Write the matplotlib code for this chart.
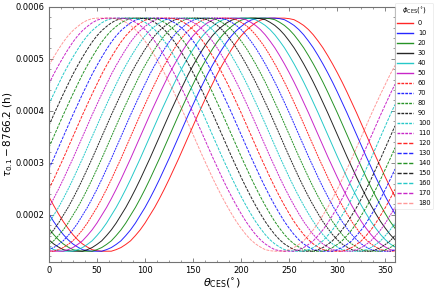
import numpy as np
import matplotlib
matplotlib.use('Agg')
import matplotlib.pyplot as plt
from matplotlib.ticker import AutoMinorLocator

# theta_CES grid (deg) and tau_0.1 - 8766.2 (h) for phi_CES = 0
theta = np.arange(0, 365, 5)
tau_phi0 = [0.000235, 0.000218, 0.000202, 0.000187, 0.000174, 0.000162, 0.000152, 0.000144,
            0.000138, 0.000133, 0.000131, 0.000130, 0.000130, 0.000130, 0.000133, 0.000137,
            0.000143, 0.000150, 0.000160, 0.000171, 0.000184, 0.000199, 0.000214, 0.000231,
            0.000249, 0.000268, 0.000288, 0.000308, 0.000329, 0.000350, 0.000371, 0.000392,
            0.000412, 0.000432, 0.000451, 0.000470, 0.000487, 0.000503, 0.000518, 0.000532,
            0.000544, 0.000554, 0.000562, 0.000569, 0.000574, 0.000577, 0.000578, 0.000578,
            0.000578, 0.000578, 0.000577, 0.000575, 0.000570, 0.000564, 0.000556, 0.000546,
            0.000534, 0.000521, 0.000506, 0.000490, 0.000473, 0.000455, 0.000436, 0.000416,
            0.000396, 0.000375, 0.000354, 0.000333, 0.000312, 0.000292, 0.000272, 0.000253]
phis = list(range(0, 190, 10))

colors = ['r', 'b', 'g', 'k', 'c', 'm']
styles = ['-', (0, (2, 0.8)), (0, (3, 1.2))]

fig = plt.figure(figsize=(4.36, 2.91), dpi=100)
ax = fig.add_axes([0.112, 0.101, 0.794, 0.876])

base = np.array(tau_phi0)
for i, phi in enumerate(phis):
    y = np.roll(base, -phi // 5)
    y = np.append(y, y[0])
    if phi == 180:
        ax.plot(theta, y, color='r', ls=(0, (3, 1.2)), lw=0.7, alpha=0.4, label=str(phi))
    else:
        ax.plot(theta, y, color=colors[i % 6], ls=styles[i // 6], lw=0.7,
                alpha=0.85, label=str(phi))

ax.set_xlim(0, 360)
ax.set_ylim(0.00011, 0.0006)
ax.set_yticks([0.0002, 0.0003, 0.0004, 0.0005, 0.0006])
ax.set_yticklabels(['0.0002', '0.0003', '0.0004', '0.0005', '0.0006'])
ax.xaxis.set_minor_locator(AutoMinorLocator(4))
ax.yaxis.set_minor_locator(AutoMinorLocator(5))
ax.tick_params(which='both', direction='in', top=True, right=True, labelsize=6,
               color='0.45', pad=3)
ax.tick_params(which='major', length=3, width=0.6)
ax.tick_params(which='minor', length=1.5, width=0.5)
for s in ax.spines.values():
    s.set_color('0.45')
    s.set_linewidth(0.8)

ax.set_xlabel(r'$\theta_{\rm CES}(^{\circ})$', fontsize=8, labelpad=1)
ax.set_ylabel(r'$\tau_{0.1}-8766.2$ (h)', fontsize=7.5, labelpad=1)
ax.yaxis.set_label_coords(-0.097, 0.5)

leg = ax.legend(title=r'$\phi_{\rm CES}(^{\circ})$', loc='upper left',
                bbox_to_anchor=(0.995, 1.02), fontsize=4.8, title_fontsize=5,
                frameon=True, handlelength=2.3, labelspacing=0.6, borderpad=0.4,
                borderaxespad=0.2, handletextpad=0.8)
leg.get_frame().set_linewidth(0.4)
leg.get_frame().set_edgecolor('0.85')
for h in leg.get_lines():
    h.set_linewidth(1.0)

fig.savefig('out.png', dpi=100)
